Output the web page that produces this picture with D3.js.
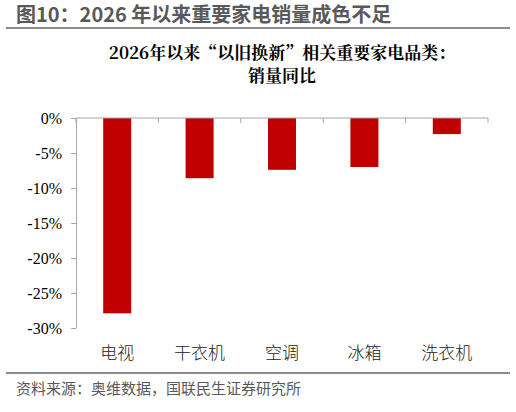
<!DOCTYPE html>
<html><head><meta charset="utf-8">
<script src="https://cdn.jsdelivr.net/npm/d3@7"></script>
<style>body{margin:0;background:#fff;} text{font-family:"Noto Sans CJK SC",sans-serif;}</style>
</head><body>
<svg id="c" width="516" height="412"></svg>
<script>
// Data
const categories = ["电视", "干衣机", "空调", "冰箱", "洗衣机"];
const values = [-27.9, -8.6, -7.4, -7.0, -2.3];
const yTicks = [0, -5, -10, -15, -20, -25, -30];

const svg = d3.select("#c");
const margin = {top: 118, left: 76, right: 28, bottom: 84};
const width = 516 - margin.left - margin.right;
const height = 412 - margin.top - margin.bottom;

// Heading
svg.append("text").attr("x", 16).attr("y", 22)
  .attr("font-size", 20).attr("font-weight", "bold").attr("fill", "#595959")
  .text("图10：2026 年以来重要家电销量成色不足");
svg.append("line").attr("x1", 6).attr("x2", 510).attr("y1", 28).attr("y2", 28)
  .attr("stroke", "#666").attr("stroke-width", 1.5);

// Chart title
const title = svg.append("text").attr("text-anchor", "middle")
  .attr("font-size", 17).attr("font-weight", "bold").attr("fill", "#000")
  .style("font-family", "'Noto Serif CJK SC','Liberation Serif',serif");
title.append("tspan").attr("x", 282).attr("y", 59).text("2026年以来“以旧换新”相关重要家电品类：");
title.append("tspan").attr("x", 282).attr("y", 82).text("销量同比");

const x = d3.scaleBand().domain(categories).range([0, width]).paddingInner(0.66).paddingOuter(0.33);
const y = d3.scaleLinear().domain([-30, 0]).range([height, 0]);

const g = svg.append("g").attr("transform", `translate(${margin.left},${margin.top})`);

g.selectAll("rect").data(values).enter().append("rect")
  .attr("x", (d, i) => x(categories[i]))
  .attr("y", y(0))
  .attr("width", x.bandwidth())
  .attr("height", d => y(d) - y(0))
  .attr("fill", "#c00000");

// Y axis
const yAxis = g.append("g")
  .call(d3.axisLeft(y).tickValues(yTicks).tickFormat(d => d + "%").tickSize(5).tickSizeOuter(0));
yAxis.select(".domain").attr("stroke", "#a6a6a6");
yAxis.selectAll("line").attr("stroke", "#a6a6a6");
yAxis.selectAll("text").attr("font-size", 16).attr("fill", "#000").attr("dx", -6)
  .style("font-family", "'Liberation Serif',serif");

// X axis line at 0 with boundary ticks
g.append("line").attr("x1", 0).attr("x2", width).attr("y1", y(0)).attr("y2", y(0)).attr("stroke", "#a6a6a6");
const step = width / categories.length;
g.selectAll(".bt").data(d3.range(categories.length + 1)).enter().append("line")
  .attr("x1", d => d * step).attr("x2", d => d * step)
  .attr("y1", y(0)).attr("y2", y(0) + 5).attr("stroke", "#a6a6a6");

g.selectAll(".cl").data(categories).enter().append("text")
  .attr("x", d => x(d) + x.bandwidth() / 2).attr("y", height + 31)
  .attr("text-anchor", "middle").attr("font-size", 17).attr("fill", "#222")
  .attr("font-weight", 300)
  .text(d => d);

// Footer
svg.append("line").attr("x1", 6).attr("x2", 510).attr("y1", 373).attr("y2", 373)
  .attr("stroke", "#666").attr("stroke-width", 1.5);
svg.append("text").attr("x", 16).attr("y", 394).attr("font-size", 15).attr("fill", "#595959")
  .text("资料来源：奥维数据，国联民生证券研究所");
</script>
</body></html>
